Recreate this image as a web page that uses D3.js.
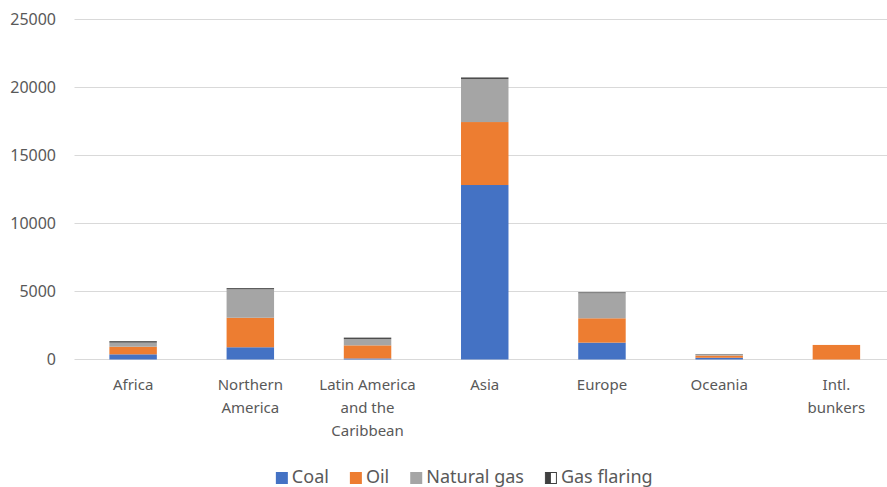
<!DOCTYPE html>
<html>
<head>
<meta charset="utf-8">
<script src="https://cdn.jsdelivr.net/npm/d3@7"></script>
<style>
  body { margin: 0; background: #fff; }
  svg { display: block; font-family: "Noto Sans", "Liberation Sans", sans-serif; }
</style>
</head>
<body>
<div id="chart"></div>
<script>
// categories and x tick labels (line breaks as in the original)
const categories = ["Africa", "Northern America", "Latin America and the Caribbean", "Asia", "Europe", "Oceania", "Intl. bunkers"];
const tickLabels = [["Africa"], ["Northern", "America"], ["Latin America", "and the", "Caribbean"], ["Asia"], ["Europe"], ["Oceania"], ["Intl.", "bunkers"]];

// series values
const seriesNames = ["Coal", "Oil", "Natural gas", "Gas flaring"];
const coal       = [380,  900, 80,  12830, 1240, 130, 0];
const oil        = [560, 2170, 960,  4630, 1790, 160, 1070];
const naturalGas = [300, 2090, 460,  3160, 1840, 90,  0];
const gasFlaring = [110,   90, 110,   120,   70, 25,  0];

const yTicks = [0, 5000, 10000, 15000, 20000, 25000];

const svgWidth = 887, svgHeight = 487;
const margin = { top: 19.5, right: -8, bottom: 127.5, left: 74.5 };
const width = svgWidth - margin.left - margin.right;
const height = svgHeight - margin.top - margin.bottom;

const colors = ["#4472C4", "#ED7D31", "#A5A5A5", "#4d4d4d"];

// build rows for d3.stack
const rows = categories.map((c, i) => ({
    cat: c,
    "Coal": coal[i],
    "Oil": oil[i],
    "Natural gas": naturalGas[i],
    "Gas flaring": gasFlaring[i]
}));
const stacked = d3.stack().keys(seriesNames)(rows);

const svg = d3.select("#chart").append("svg")
    .attr("width", svgWidth)
    .attr("height", svgHeight);

const g = svg.append("g")
    .attr("transform", `translate(${margin.left}, ${margin.top})`);

const x = d3.scaleBand().domain(categories).range([0, width]).paddingInner(0.595).paddingOuter(0.2975);
const y = d3.scaleLinear().domain([0, 25000]).range([height, 0]);

// gridlines
g.append("g")
    .selectAll("line")
    .data(yTicks)
    .join("line")
    .attr("x1", 0)
    .attr("x2", svgWidth - margin.left)
    .attr("y1", d => y(d))
    .attr("y2", d => y(d))
    .style("stroke", "#d9d9d9")
    .style("stroke-width", "1px");

// y tick labels
g.append("g")
    .selectAll("text")
    .data(yTicks)
    .join("text")
    .attr("x", -18.5)
    .attr("y", d => y(d))
    .attr("dy", "0.36em")
    .attr("text-anchor", "end")
    .style("font-size", "16px")
    .style("fill", "#595959")
    .text(d => d);

// stacked bars
g.append("g")
    .selectAll("g")
    .data(stacked)
    .join("g")
    .attr("fill", (d, i) => colors[i])
    .selectAll("rect")
    .data(d => d)
    .join("rect")
    .attr("x", d => x(d.data.cat))
    .attr("width", x.bandwidth())
    .attr("y", d => y(d[1]))
    .attr("height", d => Math.max(0, y(d[0]) - y(d[1])));

// x axis labels
const xl = g.append("g")
    .selectAll("text")
    .data(categories)
    .join("text")
    .attr("text-anchor", "middle")
    .attr("transform", d => `translate(${x(d) + x.bandwidth() / 2}, ${height + 30.5})`)
    .style("font-size", "15px")
    .style("fill", "#595959");
xl.selectAll("tspan")
    .data((d, i) => tickLabels[i])
    .join("tspan")
    .attr("x", 0)
    .attr("dy", (d, i) => i == 0 ? 0 : 23)
    .text(d => d);

// legend
const legend = svg.append("g").attr("class", "legend");
const items = legend.selectAll("g")
    .data(seriesNames)
    .join("g");
items.each(function(name, i) {
    const item = d3.select(this);
    if (i < 3) {
        item.append("rect")
            .attr("x", 0).attr("y", -11)
            .attr("width", 12).attr("height", 12)
            .attr("fill", colors[i]);
    } else {
        item.append("rect")
            .attr("x", 0.5).attr("y", -10.5)
            .attr("width", 11).attr("height", 11)
            .attr("fill", "#ffffff")
            .attr("stroke", "#404040");
        item.append("rect")
            .attr("x", 1).attr("y", -10)
            .attr("width", 5).attr("height", 10)
            .attr("fill", "#404040");
    }
    item.append("text")
        .attr("x", 16)
        .attr("y", 0)
        .style("font-size", "18px")
        .style("fill", "#595959")
        .text(name);
});
// lay out legend items side by side, centred
let pos = 0;
const offsets = [];
items.each(function() {
    offsets.push(pos);
    pos += this.getBBox().width + 21;
});
const total = pos - 21;
const startX = 464 - total / 2;
items.attr("transform", (d, i) => `translate(${startX + offsets[i]}, 483)`);
</script>
</body>
</html>
